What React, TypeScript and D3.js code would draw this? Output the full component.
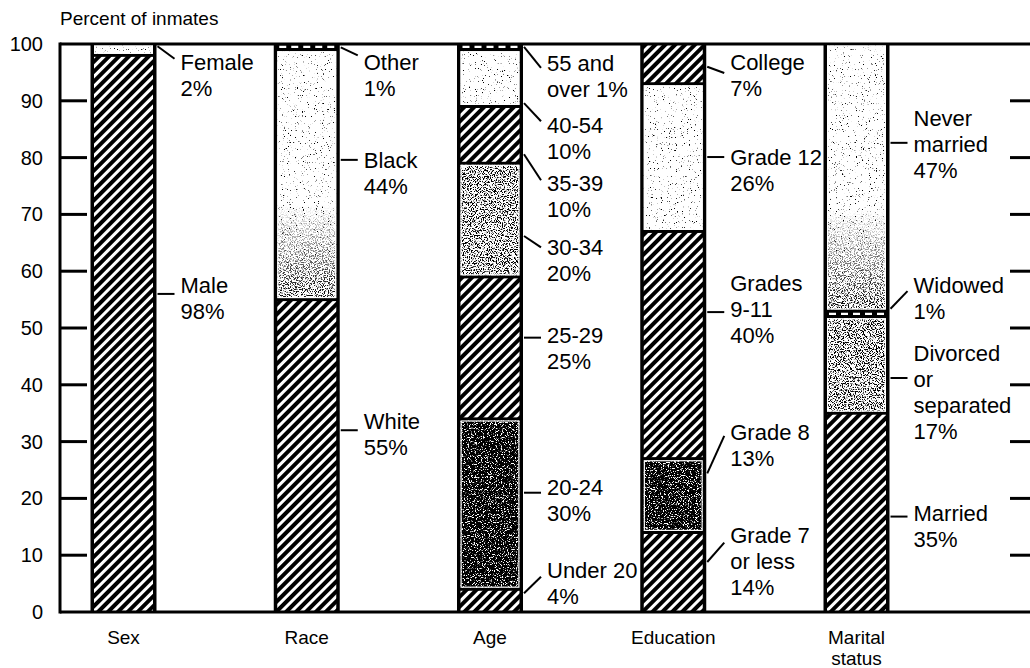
import React, { useEffect, useRef } from "react";
import * as d3 from "d3";

// ---- data (percent of inmates) ----
const categories = ["Sex", "Race", "Age", "Education", "Marital\nstatus"];

const sexNames = ["Male", "Female"];
const sexValues = [98, 2];

const raceNames = ["White", "Black", "Other"];
const raceValues = [55, 44, 1];

const ageNames = ["Under 20", "20-24", "25-29", "30-34", "35-39", "40-54", "55 and\nover"];
const ageValues = [4, 30, 25, 20, 10, 10, 1];

const educationNames = ["Grade 7\nor less", "Grade 8", "Grades\n9-11", "Grade 12", "College"];
const educationValues = [14, 13, 40, 26, 7];

const maritalNames = ["Married", "Divorced\nor\nseparated", "Widowed", "Never\nmarried"];
const maritalValues = [35, 17, 1, 47];

const yTicks = [0, 10, 20, 30, 40, 50, 60, 70, 80, 90, 100];

// ---- styles: texture of each segment ----
const sexFills = ["hatch", "light"];
const raceFills = ["hatch", "lightFade", "band"];
const ageFills = ["hatch", "dark", "hatch", "medium", "hatch", "light", "band"];
const educationFills = ["hatch", "dark", "hatch", "light", "hatch"];
const maritalFills = ["hatch", "medium", "band", "lightFade"];

// ---- label layout, in percent units: [first line, leader at bar, leader at label] ----
const sexLabelPos = [[57.5, 56, 56], [96.8, 99.6, 97.4]];
const raceLabelPos = [[33.6, 32, 32], [79.6, 79.6, 79.6], [96.9, 99.4, 98]];
const ageLabelPos = [[7.4, 3.3, 6.2], [22, 21, 21], [48.8, 48.3, 48.3], [64.3, 66.2, 64.2],
  [75.6, 80.6, 76], [85.7, 89.6, 86.4], [96.6, 99.5, 95.8]];
const educationLabelPos = [[13.6, 8.8, 12.2], [31.7, 24.4, 31], [57.9, 52.8, 52.8],
  [80.1, 80.1, 80.1], [96.8, 96, 94.9]];
const maritalLabelPos = [[17.4, 16.8, 16.8], [45.6, 41.2, 41.2], [57.6, 53.4, 56.5], [87, 82.6, 82.6]];

const inlinePercent = new Set(["55 and\nover"]);

const width = 1030;
const height = 668;
const margin = { top: 44, left: 60, bottom: 56 };
const barWidth = 66;
const font = "'Liberation Sans', Arial, Helvetica, sans-serif";

export default function App() {
  const ref = useRef<SVGSVGElement>(null);

  useEffect(() => {
    const groups = [
      { names: sexNames, values: sexValues, fills: sexFills, pos: sexLabelPos },
      { names: raceNames, values: raceValues, fills: raceFills, pos: raceLabelPos },
      { names: ageNames, values: ageValues, fills: ageFills, pos: ageLabelPos },
      { names: educationNames, values: educationValues, fills: educationFills, pos: educationLabelPos },
      { names: maritalNames, values: maritalValues, fills: maritalFills, pos: maritalLabelPos },
    ].map((g, i) => ({ ...g, category: categories[i] }));

    const y = d3.scaleLinear()
      .domain([0, 100])
      .range([height - margin.bottom, margin.top]);

    const x = d3.scalePoint<string>()
      .domain(categories)
      .range([123.5, 856.5]);

    const svg = d3.select(ref.current);
    svg.selectAll("*").remove();

    const defs = svg.append("defs");

    const hatch = defs.append("pattern")
      .attr("id", "hatch")
      .attr("patternUnits", "userSpaceOnUse")
      .attr("width", 7)
      .attr("height", 7)
      .attr("patternTransform", "rotate(45)");
    hatch.append("rect").attr("width", 7).attr("height", 7).attr("fill", "#000");
    hatch.append("rect").attr("width", 3).attr("height", 7).attr("fill", "#fff");

    // speckled screen tones made from noise
    const stipple = (id: string, threshold: number, seed: number) => {
      const f = defs.append("filter")
        .attr("id", id)
        .attr("x", 0).attr("y", 0).attr("width", 1).attr("height", 1)
        .attr("color-interpolation-filters", "sRGB");
      f.append("feTurbulence")
        .attr("type", "fractalNoise")
        .attr("baseFrequency", 0.85)
        .attr("numOctaves", 2)
        .attr("seed", seed)
        .attr("result", "n");
      const k = 9;
      f.append("feColorMatrix")
        .attr("in", "n")
        .attr("type", "matrix")
        .attr("values", `0 0 0 0 0  0 0 0 0 0  0 0 0 0 0  ${k} 0 0 0 ${-k * threshold}`)
        .attr("result", "dots");
      f.append("feFlood").attr("flood-color", "#fff").attr("result", "w");
      f.append("feComposite").attr("in", "dots").attr("in2", "w").attr("operator", "over").attr("result", "m");
      f.append("feComposite").attr("in", "m").attr("in2", "SourceGraphic").attr("operator", "in");
    };
    stipple("st-light", 0.67, 3);
    stipple("st-medium", 0.5, 7);
    stipple("st-dark", 0.33, 11);

    const grad = defs.append("linearGradient")
      .attr("id", "fadeGrad")
      .attr("x1", 0).attr("y1", 0).attr("x2", 0).attr("y2", 1);
    grad.append("stop").attr("offset", 0.62).attr("stop-color", "#000");
    grad.append("stop").attr("offset", 1).attr("stop-color", "#fff");
    defs.append("mask")
      .attr("id", "fadeMask")
      .attr("maskContentUnits", "objectBoundingBox")
      .append("rect").attr("width", 1).attr("height", 1).attr("fill", "url(#fadeGrad)");

    // frame
    const frame = svg.append("g").attr("stroke", "#000").attr("stroke-width", 3);
    frame.append("line").attr("x1", margin.left).attr("x2", width).attr("y1", y(100)).attr("y2", y(100));
    frame.append("line").attr("x1", margin.left).attr("x2", width).attr("y1", y(0)).attr("y2", y(0));
    frame.append("line").attr("x1", margin.left).attr("x2", margin.left).attr("y1", y(100) - 1.5).attr("y2", y(0) + 1.5);

    const inner = yTicks.filter(t => t > 0 && t < 100);
    frame.selectAll(".lt").data(inner).join("line")
      .attr("x1", margin.left).attr("x2", margin.left + 27)
      .attr("y1", d => y(d)).attr("y2", d => y(d));
    frame.selectAll(".rt").data(inner).join("line")
      .attr("x1", width - 20).attr("x2", width)
      .attr("y1", d => y(d)).attr("y2", d => y(d));

    svg.append("g")
      .attr("font-family", font)
      .attr("font-size", 20)
      .attr("text-anchor", "end")
      .selectAll("text")
      .data(yTicks)
      .join("text")
      .attr("x", 43)
      .attr("y", d => y(d) + 7)
      .text(d => d);

    svg.append("text")
      .attr("x", margin.left)
      .attr("y", 25)
      .attr("font-family", font)
      .attr("font-size", 19)
      .text("Percent of inmates");

    // bars
    groups.forEach(g => {
      const cx = x(g.category)!;
      const x0 = cx - barWidth / 2;
      const x1 = cx + barWidth / 2;
      const bar = svg.append("g");

      bar.append("rect")
        .attr("x", x0).attr("y", y(100))
        .attr("width", barWidth).attr("height", y(0) - y(100))
        .attr("fill", "#000");

      const stacked = d3.cumsum(g.values);
      g.values.forEach((v, i) => {
        const base = stacked[i] - v;
        const top = stacked[i];
        const ya = y(top) + 1.5;
        const yb = y(base) - 1.5;
        const fill = g.fills[i];
        const ix = x0 + 3.5;
        const iw = barWidth - 7;
        if (fill === "hatch") {
          bar.append("rect").attr("x", ix).attr("y", ya).attr("width", iw).attr("height", yb - ya)
            .attr("fill", "url(#hatch)");
        } else if (fill === "band") {
          bar.append("line")
            .attr("x1", ix + 2).attr("x2", x1 - 5)
            .attr("y1", (y(top) + y(base)) / 2).attr("y2", (y(top) + y(base)) / 2)
            .attr("stroke", "#fff").attr("stroke-width", 2.2)
            .attr("stroke-dasharray", "7 5");
        } else {
          const tone = fill === "lightFade" ? "light" : fill;
          bar.append("rect").attr("x", ix).attr("y", ya).attr("width", iw).attr("height", yb - ya)
            .attr("fill", "#fff").attr("filter", `url(#st-${tone})`);
          if (fill === "lightFade") {
            bar.append("rect").attr("x", ix).attr("y", ya).attr("width", iw).attr("height", yb - ya)
              .attr("fill", "#fff").attr("filter", "url(#st-medium)").attr("mask", "url(#fadeMask)");
          }
          bar.append("rect").attr("x", ix + 0.6).attr("y", ya + 0.6).attr("width", iw - 1.2).attr("height", yb - ya - 1.2)
            .attr("fill", "none").attr("stroke", "#fff").attr("stroke-width", 1.2);
        }

        // label with leader line
        const [lv, bv, ev] = g.pos[i];
        bar.append("line")
          .attr("x1", x1 + 1).attr("x2", x1 + 18)
          .attr("y1", y(bv)).attr("y2", y(ev))
          .attr("stroke", "#000").attr("stroke-width", 2);

        const name = g.names[i];
        const lines = inlinePercent.has(name)
          ? (name + ` ${v}%`).split("\n")
          : [...name.split("\n"), `${v}%`];
        bar.append("text")
          .attr("font-family", font)
          .attr("font-size", 22)
          .selectAll("tspan")
          .data(lines)
          .join("tspan")
          .attr("x", x1 + 24)
          .attr("y", (d, j) => y(lv) + 8 + j * 26)
          .text(d => d);
      });

      svg.append("text")
        .attr("font-family", font)
        .attr("font-size", 19)
        .attr("text-anchor", "middle")
        .selectAll("tspan")
        .data(g.category.split("\n"))
        .join("tspan")
        .attr("x", cx)
        .attr("y", (d, j) => 644 + j * 21)
        .text(d => d);
    });
  }, []);

  return (
    <svg
      ref={ref}
      width={width}
      height={height}
      viewBox={`0 0 ${width} ${height}`}
      style={{ position: "absolute", left: 0, top: 0, background: "#fff" }}
    />
  );
}
